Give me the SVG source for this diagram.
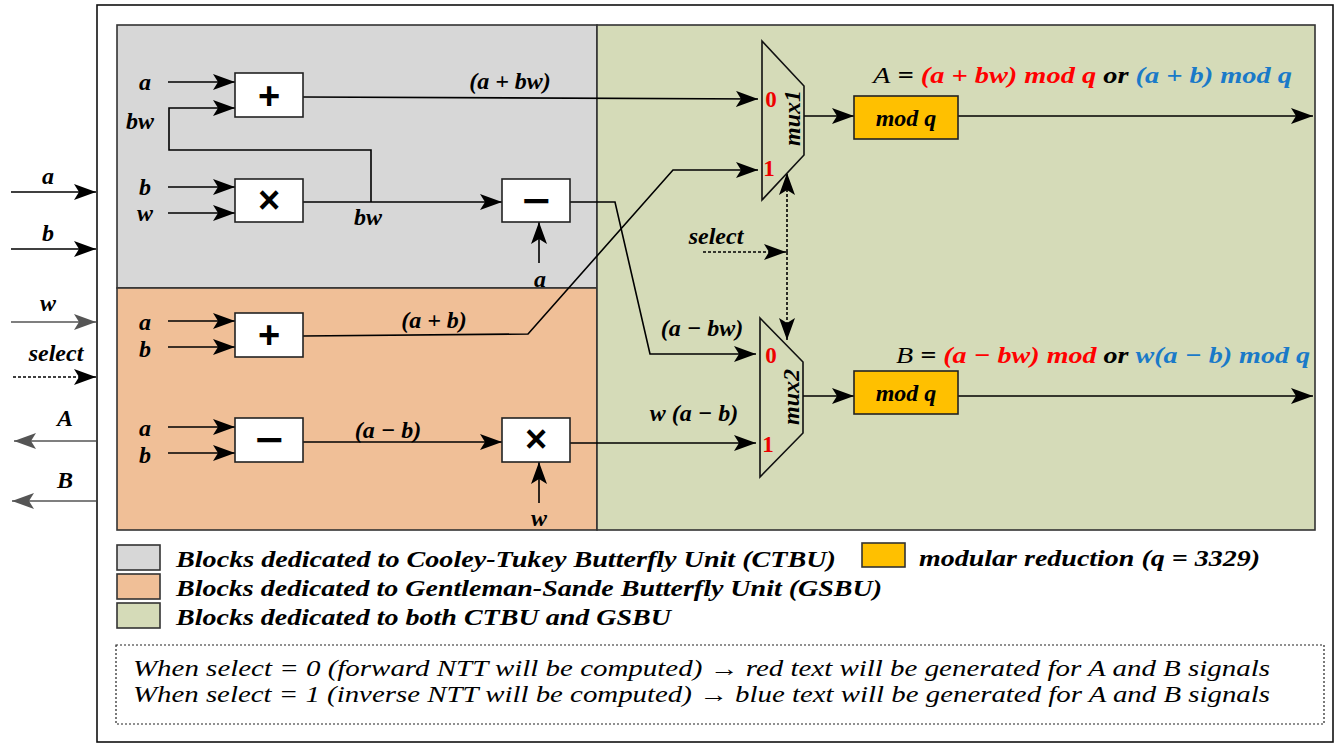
<svg xmlns="http://www.w3.org/2000/svg" width="1341" height="745" viewBox="0 0 1341 745">
<defs>
<marker id="ah" markerUnits="userSpaceOnUse" markerWidth="24" markerHeight="16" refX="22" refY="8" orient="auto">
<path d="M0,0 L22,8 L0,16 L5,8 z" fill="#000"/>
</marker>
<marker id="ahg" markerUnits="userSpaceOnUse" markerWidth="24" markerHeight="16" refX="22" refY="8" orient="auto">
<path d="M0,0 L22,8 L0,16 L5,8 z" fill="#555"/>
</marker>
<style>
.w{stroke:#000;stroke-width:1.6;fill:none}
.wg{stroke:#555;stroke-width:1.6;fill:none}
.dot{stroke:#000;stroke-width:1.6;fill:none;stroke-dasharray:3 2}
.box{fill:#fff;stroke:#222;stroke-width:1.6}
.mod{fill:#ffc000;stroke:#222;stroke-width:1.6}
.lbl{font-style:italic;font-weight:bold;font-size:24px;fill:#000}
.op{font-weight:bold;font-size:38px;fill:#000;text-anchor:middle}
.num{font-weight:bold;font-size:23px;fill:#e00}
.red{fill:#f00}
.blue{fill:#1a7ac8}
.leg{font-style:italic;font-weight:bold;font-size:23px;fill:#000}
.note{font-style:italic;font-size:23px;fill:#000}
</style>
</defs>
<rect x="0" y="0" width="1341" height="745" fill="#fff"/>
<rect x="97" y="5" width="1236" height="737" fill="none" stroke="#111" stroke-width="1.6"/>
<g id="regions">
<rect x="117" y="25" width="480" height="263" fill="#d7d7d7" stroke="#333" stroke-width="1.6"/>
<rect x="117" y="288" width="480" height="242" fill="#f0bf97" stroke="#333" stroke-width="1.6"/>
<rect x="597" y="25" width="718" height="505" fill="#d5dbb8" stroke="#333" stroke-width="1.6"/>
</g>
<g id="connectors">
<line class="w" x1="11" y1="192" x2="96" y2="192" marker-end="url(#ah)"/>
<line class="w" x1="11" y1="249" x2="96" y2="249" marker-end="url(#ah)"/>
<line class="wg" x1="11" y1="322" x2="96" y2="322" marker-end="url(#ahg)"/>
<line class="dot" x1="13" y1="377" x2="96" y2="377" marker-end="url(#ah)"/>
<line class="wg" x1="96" y1="441" x2="14" y2="441" marker-end="url(#ahg)"/>
<line class="wg" x1="96" y1="501" x2="12" y2="501" marker-end="url(#ahg)"/>
<line class="w" x1="168" y1="82" x2="235" y2="82" marker-end="url(#ah)"/>
<path class="w" d="M371,202 V150 H169 V108 H235" marker-end="url(#ah)"/>
<line class="w" x1="168" y1="187" x2="235" y2="187" marker-end="url(#ah)"/>
<line class="w" x1="168" y1="213" x2="235" y2="213" marker-end="url(#ah)"/>
<line class="w" x1="303" y1="202" x2="502" y2="202" marker-end="url(#ah)"/>
<line class="w" x1="539" y1="263" x2="539" y2="222" marker-end="url(#ah)"/>
<line class="w" x1="303" y1="97" x2="758" y2="99" marker-end="url(#ah)"/>
<path class="w" d="M570,202 H615 L650,354 H756" marker-end="url(#ah)"/>
<line class="w" x1="168" y1="321" x2="235" y2="321" marker-end="url(#ah)"/>
<line class="w" x1="168" y1="347" x2="235" y2="347" marker-end="url(#ah)"/>
<path class="w" d="M303,336 L528,334 L673,170 H758" marker-end="url(#ah)"/>
<line class="w" x1="168" y1="427" x2="235" y2="427" marker-end="url(#ah)"/>
<line class="w" x1="168" y1="453" x2="235" y2="453" marker-end="url(#ah)"/>
<line class="w" x1="303" y1="442" x2="502" y2="442" marker-end="url(#ah)"/>
<line class="w" x1="539" y1="503" x2="539" y2="462" marker-end="url(#ah)"/>
<line class="w" x1="570" y1="443" x2="756" y2="443" marker-end="url(#ah)"/>
<line class="dot" x1="787" y1="252" x2="787" y2="173" marker-end="url(#ah)"/>
<line class="dot" x1="787" y1="252" x2="787" y2="340" marker-end="url(#ah)"/>
<line class="dot" x1="703" y1="252" x2="786" y2="252" marker-end="url(#ah)"/>
<line class="w" x1="804" y1="116" x2="854" y2="116" marker-end="url(#ah)"/>
<line class="w" x1="803" y1="396" x2="854" y2="396" marker-end="url(#ah)"/>
<line class="w" x1="958" y1="116" x2="1313" y2="116" marker-end="url(#ah)"/>
<line class="w" x1="958" y1="396" x2="1313" y2="396" marker-end="url(#ah)"/>
</g>
<g font-family="Liberation Serif, Times New Roman, DejaVu Serif, serif">
<g id="io-labels">
<text class="lbl" x="48" y="184" text-anchor="middle">a</text>
<text class="lbl" x="48" y="241" text-anchor="middle">b</text>
<text class="lbl" x="48" y="311" text-anchor="middle">w</text>
<text class="lbl" x="56" y="361" text-anchor="middle">select</text>
<text class="lbl" x="65" y="426" text-anchor="middle">A</text>
<text class="lbl" x="65" y="488" text-anchor="middle">B</text>
</g>
<g id="ct-add">
<rect class="box" x="235" y="73" width="68" height="44"/>
<text class="op" x="269" y="109" font-family="Liberation Sans, Arial, sans-serif">+</text>
</g>
<g id="ct-mul">
<rect class="box" x="235" y="179" width="68" height="43"/>
<text class="op" x="269" y="213" font-family="Liberation Sans, Arial, sans-serif">×</text>
</g>
<g id="ct-sub">
<rect class="box" x="502" y="179" width="68" height="43"/>
<text class="op" x="536" y="214" font-family="Liberation Sans, Arial, sans-serif" textLength="28" lengthAdjust="spacingAndGlyphs">−</text>
</g>
<g id="ct-labels">
<text class="lbl" x="145" y="90" text-anchor="middle">a</text>
<text class="lbl" x="140" y="129" text-anchor="middle">bw</text>
<text class="lbl" x="145" y="195" text-anchor="middle">b</text>
<text class="lbl" x="145" y="221" text-anchor="middle">w</text>
<text class="lbl" x="510" y="89" text-anchor="middle">(a + bw)</text>
<text class="lbl" x="368" y="225" text-anchor="middle">bw</text>
<text class="lbl" x="540" y="287" text-anchor="middle">a</text>
</g>
<g id="gs-add">
<rect class="box" x="235" y="313" width="68" height="44"/>
<text class="op" x="269" y="348" font-family="Liberation Sans, Arial, sans-serif">+</text>
</g>
<g id="gs-sub">
<rect class="box" x="235" y="418" width="68" height="44"/>
<text class="op" x="269" y="453" font-family="Liberation Sans, Arial, sans-serif" textLength="28" lengthAdjust="spacingAndGlyphs">−</text>
</g>
<g id="gs-mul">
<rect class="box" x="502" y="418" width="68" height="44"/>
<text class="op" x="536" y="452" font-family="Liberation Sans, Arial, sans-serif">×</text>
</g>
<g id="gs-labels">
<text class="lbl" x="145" y="330" text-anchor="middle">a</text>
<text class="lbl" x="145" y="357" text-anchor="middle">b</text>
<text class="lbl" x="145" y="436" text-anchor="middle">a</text>
<text class="lbl" x="145" y="463" text-anchor="middle">b</text>
<text class="lbl" x="434" y="328" text-anchor="middle">(a + b)</text>
<text class="lbl" x="388" y="438" text-anchor="middle">(a − b)</text>
<text class="lbl" x="539" y="526" text-anchor="middle">w</text>
</g>
<g id="mux1">
<path d="M762,41 L804,86 L804,155 L762,200 z" fill="none" stroke="#111" stroke-width="1.6"/>
<text class="num" x="771" y="107" text-anchor="middle">0</text>
<text class="num" x="769" y="176" text-anchor="middle">1</text>
<text class="lbl" x="0" y="0" text-anchor="middle" transform="translate(800,118) rotate(-90)">mux1</text>
</g>
<g id="mux2">
<path d="M760,318 L803,362 L803,433 L760,477 z" fill="none" stroke="#111" stroke-width="1.6"/>
<text class="num" x="771" y="363" text-anchor="middle">0</text>
<text class="num" x="768" y="452" text-anchor="middle">1</text>
<text class="lbl" x="0" y="0" text-anchor="middle" transform="translate(799,397) rotate(-90)">mux2</text>
</g>
<g id="mux-labels">
<text class="lbl" x="716" y="244" text-anchor="middle">select</text>
<text class="lbl" x="702" y="336" text-anchor="middle">(a − bw)</text>
<text class="lbl" x="694" y="421" text-anchor="middle">w (a − b)</text>
</g>
<g id="modq1">
<rect class="mod" x="854" y="96" width="104" height="43"/>
<text class="lbl" x="906" y="126" text-anchor="middle">mod q</text>
</g>
<g id="modq2">
<rect class="mod" x="854" y="371" width="104" height="43"/>
<text class="lbl" x="906" y="401" text-anchor="middle">mod q</text>
</g>
<g id="formulas">
<text class="lbl" x="873" y="83" textLength="419" lengthAdjust="spacingAndGlyphs"><tspan font-weight="normal">A</tspan> = <tspan class="red">(a + bw) mod q</tspan> or <tspan class="blue">(a + b) mod q</tspan></text>
<text class="lbl" x="896" y="363" textLength="414" lengthAdjust="spacingAndGlyphs"><tspan font-weight="normal">B</tspan> = <tspan class="red">(a − bw) mod</tspan> or <tspan class="blue">w(a − b) mod q</tspan></text>
</g>
<g id="legend">
<rect x="117" y="545" width="43" height="25" fill="#d7d7d7" stroke="#333" stroke-width="1.6"/>
<rect x="117" y="574" width="43" height="25" fill="#f0bf97" stroke="#333" stroke-width="1.6"/>
<rect x="117" y="603" width="43" height="25" fill="#d5dbb8" stroke="#333" stroke-width="1.6"/>
<rect x="862" y="543" width="43" height="24" fill="#ffc000" stroke="#333" stroke-width="1.6"/>
<text class="leg" x="176" y="567" textLength="660" lengthAdjust="spacingAndGlyphs">Blocks dedicated to Cooley-Tukey Butterfly Unit (CTBU)</text>
<text class="leg" x="176" y="596" textLength="706" lengthAdjust="spacingAndGlyphs">Blocks dedicated to Gentleman-Sande Butterfly Unit (GSBU)</text>
<text class="leg" x="176" y="625" textLength="495" lengthAdjust="spacingAndGlyphs">Blocks dedicated to both CTBU and GSBU</text>
<text class="leg" x="919" y="566" textLength="341" lengthAdjust="spacingAndGlyphs">modular reduction (q = 3329)</text>
</g>
<g id="note">
<rect x="116" y="645" width="1208" height="79" fill="none" stroke="#222" stroke-width="1.2" stroke-dasharray="2 2"/>
<text class="note" x="133" y="676" textLength="1137" lengthAdjust="spacingAndGlyphs">When select = 0 (forward NTT will be computed) → red text will be generated for A and B signals</text>
<text class="note" x="133" y="702" textLength="1137" lengthAdjust="spacingAndGlyphs">When select = 1 (inverse NTT will be computed) → blue text will be generated for A and B signals</text>
</g>
</g>
</svg>
